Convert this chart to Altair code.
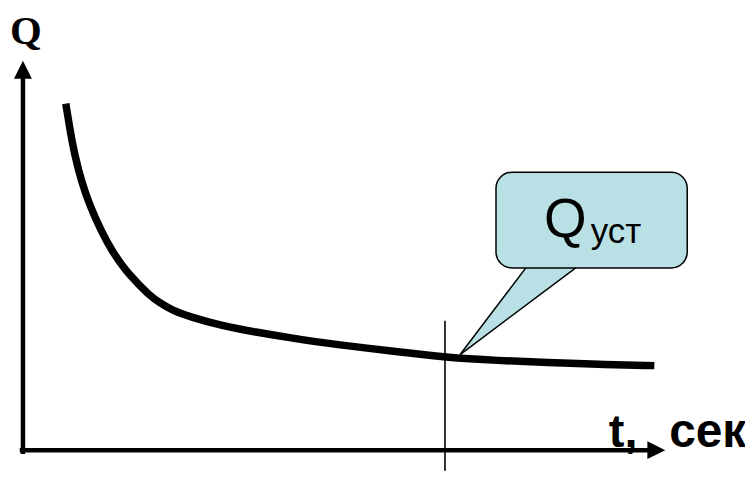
import altair as alt
import pandas as pd

# Curve Q(t) (arbitrary units: t 0..100 = axis length, Q 0..100 = axis height)
curve_t = [6.67, 7.29, 8.06, 9.15, 10.39, 12.25, 13.95, 16.12, 18.14, 19.69, 21.24, 23.26, 25.89,
           31.01, 36.28, 41.40, 48.68, 58.45, 65.74, 73.95, 81.71, 89.46, 98.29]
curve_q = [89.0, 82.6, 75.7, 68.8, 62.9, 56.0, 50.9, 45.8, 42.4, 39.8, 37.9, 35.9, 34.3,
           31.9, 30.3, 28.9, 27.1, 25.3, 23.8, 23.0, 22.5, 22.0, 21.7]

# steady-state marker
t_ust = 65.7
marker_q = [33.25, -5.3]

# callout box and tail
box_t = [73.64, 103.41]
box_q = [46.80, 71.36]
tail_t = [68.06, 78.29, 86.05]
tail_top = [24.55, 47.19, 47.19]
tail_bot = [24.55, 37.21, 47.19]
tail_edges_t = [68.06, 68.06]
tail_edges_q = [24.55, 24.55]
tail_edges_t2 = [78.29, 86.05]
tail_edges_q2 = [46.80, 46.80]

X0, X1 = -2.3256, 112.403
Y0, Y1 = -5.371, 113.299
W, H = 740, 464

xs = alt.Scale(domain=[X0, X1], nice=False, zero=False)
ys = alt.Scale(domain=[Y0, Y1], nice=False, zero=False)

def X(f, **k):
    return alt.X(f, type="quantitative", scale=xs, axis=None, **k)

def Y(f, **k):
    return alt.Y(f, type="quantitative", scale=ys, axis=None, **k)

curve_df = pd.DataFrame({"t": curve_t, "q": curve_q})
curve = alt.Chart(curve_df).mark_line(color="black", strokeWidth=7.5, interpolate="basis",
                                      strokeCap="butt").encode(x=X("t"), y=Y("q"))

# axes
axes_df = pd.DataFrame({"t": [0.0, -0.5], "q": [-1.0, 0.0], "t2": [0.0, 98.0], "q2": [97.0, 0.0]})
axes = alt.Chart(axes_df).mark_rule(color="black", strokeWidth=4.5).encode(
    x=X("t"), y=Y("q"), x2="t2", y2="q2")

arrow_up = alt.Chart(pd.DataFrame({"t": [0.0], "q": [97.7]})).mark_point(
    shape="M0,-1L1,1L-1,1Z", size=324, filled=True, color="black", opacity=1, strokeWidth=0
).encode(x=X("t"), y=Y("q"))
arrow_right = alt.Chart(pd.DataFrame({"t": [98.6], "q": [0.0]})).mark_point(
    shape="M1,0L-1,-1L-1,1Z", size=324, filled=True, color="black", opacity=1, strokeWidth=0
).encode(x=X("t"), y=Y("q"))

marker = alt.Chart(pd.DataFrame({"t": [t_ust], "q": [marker_q[0]], "q2": [marker_q[1]]})).mark_rule(
    color="black", strokeWidth=1.6).encode(x=X("t"), y=Y("q"), y2="q2")

fill_col = "#B9E0E4"
box = alt.Chart(pd.DataFrame({"t": [box_t[0]], "t2": [box_t[1]], "q": [box_q[0]], "q2": [box_q[1]]})).mark_rect(
    fill=fill_col, stroke="black", strokeWidth=1.5, cornerRadius=16).encode(
    x=X("t"), x2="t2", y=Y("q"), y2="q2")

tail = alt.Chart(pd.DataFrame({"t": tail_t, "q": tail_top, "q2": tail_bot})).mark_area(
    color=fill_col, opacity=1, interpolate="linear").encode(x=X("t"), y=Y("q"), y2="q2")

tail_edges = alt.Chart(pd.DataFrame({"t": tail_edges_t, "q": tail_edges_q,
                                     "t2": tail_edges_t2, "q2": tail_edges_q2})).mark_rule(
    color="black", strokeWidth=1.5).encode(x=X("t"), y=Y("q"), x2="t2", y2="q2")

def label(t, q, text, size, font, weight="normal", align="left"):
    return alt.Chart(pd.DataFrame({"t": [t], "q": [q], "s": [text]})).mark_text(
        font=font, fontSize=size, fontWeight=weight, align=align, baseline="alphabetic", color="black"
    ).encode(x=X("t"), y=Y("q"), text="s:N")

texts = [
    label(81.1, 54.73, "Q", 55, "Liberation Sans"),
    label(88.4, 53.20, "уст", 35, "Liberation Sans"),
    label(0.47, 104.4, "Q", 41, "Liberation Serif", "bold", "center"),
    label(91.2, 0.77, "t,", 47, "Liberation Sans", "bold"),
    label(100.6, 0.77, "сек", 48, "Liberation Sans", "bold"),
]

chart = alt.layer(marker, curve, axes, arrow_up, arrow_right, tail, box, tail_edges, *texts).properties(
    width=W, height=H, padding=0, autosize=alt.AutoSizeParams(type="none")
).configure_view(stroke=None)

chart.save("out.html", embed_options={"renderer": "svg", "actions": False})
